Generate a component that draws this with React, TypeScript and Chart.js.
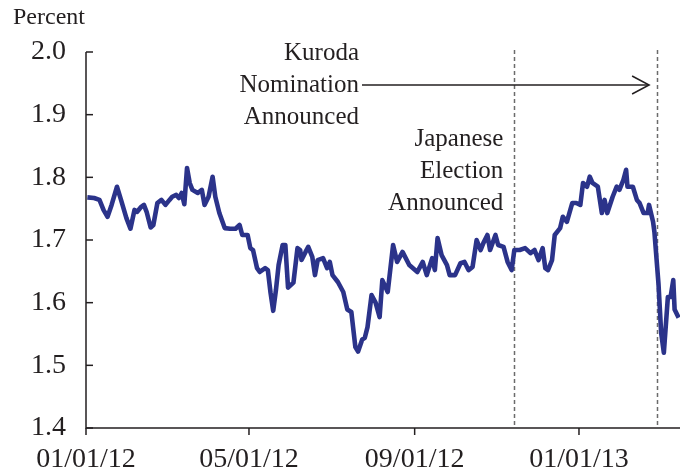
import React, { useEffect, useRef } from 'react';
import { Chart, registerables } from 'chart.js';
Chart.register(...registerables);

// Days since 01/01/2012
const days = [
  1, 6, 10, 13, 16, 19, 23, 26, 30, 33, 36, 38, 41, 43, 45, 48, 50, 53, 56, 59,
  62, 64, 67, 69, 71, 73, 75, 77, 79, 83, 86, 88, 91, 94, 96, 99, 103, 107, 111, 114,
  116, 120, 122, 124, 127, 129, 133, 135, 137, 139, 141, 143, 146, 148, 150, 154, 157, 159, 160, 163,
  165, 168, 170, 172, 176, 179, 181, 183, 187, 191, 194, 197, 200, 202, 205, 207, 209, 212, 215, 218,
  220, 224, 228, 231, 235, 240, 246, 250, 253, 257, 259, 261, 264, 268, 270, 274, 278, 281, 284, 287,
  290, 293, 295, 298, 300, 304, 306, 310, 313, 316, 318, 322, 326, 330, 333, 336, 339, 341, 343, 346,
  348, 352, 354, 357, 361, 364, 367, 369, 372, 374, 376, 380, 383, 385, 387, 391, 394, 396, 399, 401,
  402, 406, 409, 411, 414, 417, 418, 421, 422, 425, 427, 429, 432, 434, 436, 437, 440,
];

// 10-year JGB yield (percent)
const values = [
  1.768, 1.767, 1.764, 1.748, 1.737, 1.756, 1.785, 1.764, 1.735, 1.718, 1.748, 1.745, 1.753, 1.756, 1.745, 1.72, 1.724, 1.759, 1.764, 1.756,
  1.764, 1.769, 1.772, 1.767, 1.775, 1.757, 1.815, 1.791, 1.78, 1.775, 1.78, 1.756, 1.769, 1.801, 1.769, 1.743, 1.719, 1.718, 1.718, 1.724,
  1.708, 1.708, 1.687, 1.684, 1.655, 1.649, 1.655, 1.652, 1.616, 1.587, 1.62, 1.66, 1.692, 1.692, 1.624, 1.632, 1.687, 1.684, 1.668, 1.681,
  1.689, 1.673, 1.644, 1.668, 1.671, 1.655, 1.665, 1.644, 1.633, 1.617, 1.589, 1.585, 1.529, 1.522, 1.541, 1.544, 1.561, 1.612, 1.6, 1.577,
  1.636, 1.617, 1.692, 1.665, 1.681, 1.66, 1.649, 1.665, 1.644, 1.671, 1.652, 1.703, 1.676, 1.66, 1.644, 1.644, 1.663, 1.665, 1.652, 1.657,
  1.7, 1.684, 1.695, 1.708, 1.684, 1.708, 1.692, 1.689, 1.665, 1.652, 1.684, 1.684, 1.687, 1.679, 1.684, 1.668, 1.687, 1.655, 1.652, 1.668,
  1.708, 1.719, 1.737, 1.729, 1.759, 1.759, 1.756, 1.791, 1.785, 1.801, 1.791, 1.785, 1.743, 1.764, 1.743, 1.769, 1.785, 1.78, 1.796, 1.812,
  1.785, 1.785, 1.764, 1.759, 1.743, 1.743, 1.756, 1.729, 1.713, 1.631, 1.552, 1.52, 1.609, 1.609, 1.636, 1.589, 1.576,
];

const tickDays = [0, 121, 244, 366];
const tickLabels = ['01/01/12', '05/01/12', '09/01/12', '01/01/13'];
const yTicks = [1.4, 1.5, 1.6, 1.7, 1.8, 1.9, 2.0];
const electionDay = 318;
const kurodaDay = 424;
const kurodaText = ['Kuroda', 'Nomination', 'Announced'];
const electionText = ['Japanese', 'Election', 'Announced'];
const yTitle = 'Percent';

const FONT = "'Liberation Serif', 'Times New Roman', serif";
const TEXT = '#231f20';

export default function App() {
  const ref = useRef<HTMLCanvasElement>(null);
  useEffect(() => {
    document.body.style.margin = '0';
    const overlay = {
      id: 'overlay',
      beforeDatasetsDraw(chart: any) {
        const { ctx, chartArea, scales } = chart;
        const x = scales.x;
        ctx.save();
        ctx.strokeStyle = '#6b6b6b';
        ctx.lineWidth = 1.5;
        ctx.setLineDash([4, 3]);
        [electionDay, kurodaDay].forEach((d) => {
          const px = Math.round(x.getPixelForValue(d)) + 0.5;
          ctx.beginPath();
          ctx.moveTo(px, chartArea.top - 2);
          ctx.lineTo(px, chartArea.bottom);
          ctx.stroke();
        });
        ctx.restore();
      },
      afterDraw(chart: any) {
        const { ctx, chartArea, scales } = chart;
        const x = scales.x, y = scales.y;
        ctx.save();
        ctx.strokeStyle = '#231f20';
        ctx.lineWidth = 1.5;
        // axes
        ctx.beginPath();
        ctx.moveTo(chartArea.left, chartArea.top);
        ctx.lineTo(chartArea.left, chartArea.bottom);
        ctx.lineTo(chartArea.right, chartArea.bottom);
        ctx.stroke();
        // y ticks (inward)
        yTicks.forEach((v) => {
          const py = y.getPixelForValue(v);
          ctx.beginPath();
          ctx.moveTo(chartArea.left, py);
          ctx.lineTo(chartArea.left + 7, py);
          ctx.stroke();
        });
        // x ticks (outward)
        tickDays.forEach((d) => {
          const px = x.getPixelForValue(d);
          ctx.beginPath();
          ctx.moveTo(px, chartArea.bottom);
          ctx.lineTo(px, chartArea.bottom + 7);
          ctx.stroke();
        });
        // texts
        ctx.fillStyle = TEXT;
        ctx.font = `24px ${FONT}`;
        ctx.textAlign = 'left';
        ctx.textBaseline = 'middle';
        ctx.fillText(yTitle, 13, 18);
        ctx.font = `25px ${FONT}`;
        ctx.textAlign = 'right';
        const kx = x.getPixelForValue(kurodaDay);
        const ex = x.getPixelForValue(electionDay);
        kurodaText.forEach((t, i) => ctx.fillText(t, 359, 53 + i * 32));
        electionText.forEach((t, i) => ctx.fillText(t, ex - 11, 139 + i * 32));
        // arrow
        ctx.lineWidth = 1.5;
        const ay = 85;
        const tip = kx - 8;
        ctx.beginPath();
        ctx.moveTo(362, ay);
        ctx.lineTo(tip, ay);
        ctx.stroke();
        ctx.beginPath();
        ctx.moveTo(tip - 17, ay - 9);
        ctx.lineTo(tip, ay);
        ctx.lineTo(tip - 17, ay + 9);
        ctx.stroke();
        ctx.restore();
      },
    };
    const chart = new Chart(ref.current!, {
      type: 'line',
      data: {
        datasets: [
          {
            data: days.map((d, i) => ({ x: d, y: values[i] })),
            borderColor: '#2b338a',
            borderWidth: 4.6,
            borderJoinStyle: 'round',
            pointRadius: 0,
            tension: 0,
            fill: false,
          },
        ],
      },
      options: {
        responsive: false,
        animation: false,
        devicePixelRatio: 1,
        layout: { padding: { top: 52, right: 2, left: 0, bottom: 0 } },
        plugins: { legend: { display: false }, tooltip: { enabled: false } },
        scales: {
          x: {
            type: 'linear',
            min: 0,
            max: 441,
            afterBuildTicks: (s: any) => {
              s.ticks = tickDays.map((v) => ({ value: v }));
            },
            afterFit: (s: any) => {
              s.height = 44;
            },
            ticks: {
              autoSkip: false,
              maxRotation: 0,
              padding: 15,
              color: TEXT,
              font: { family: FONT, size: 28 },
              callback: (v: any) => {
                const i = tickDays.indexOf(Number(v));
                return i >= 0 ? tickLabels[i] : '';
              },
            },
            grid: { display: false, drawTicks: false },
            border: { display: false },
          },
          y: {
            min: 1.4,
            max: 2.0,
            afterBuildTicks: (s: any) => {
              s.ticks = yTicks.map((v) => ({ value: v }));
            },
            afterFit: (s: any) => {
              s.width = 86;
            },
            ticks: {
              padding: 20,
              color: TEXT,
              font: { family: FONT, size: 28 },
              callback: (v: any) => Number(v).toFixed(1),
            },
            grid: { display: false, drawTicks: false },
            border: { display: false },
          },
        },
      },
      plugins: [overlay],
    });
    return () => chart.destroy();
  }, []);
  return (
    <div style={{ position: 'absolute', left: 0, top: 0, width: 682, height: 472 }}>
      <canvas ref={ref} width={682} height={472} style={{ display: 'block' }} />
    </div>
  );
}
